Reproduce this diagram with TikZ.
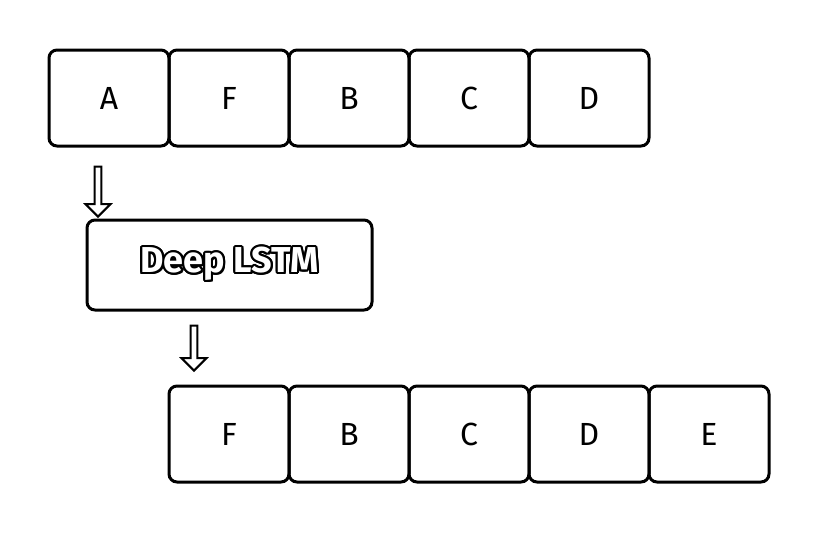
\documentclass[tikz,border=0pt]{standalone}
\usepackage{fontspec}
\setmainfont{Fira Sans}
\usepackage[copies]{contour}
\contourlength{1.1pt}
\usepackage{tikz}
\usetikzlibrary{shapes.arrows, positioning}

\begin{document}
\begin{tikzpicture}[
    node distance=0pt,
    cell/.style={rectangle, draw=black, line width=1.5pt, rounded corners=4pt, outer sep=0pt, minimum width=60pt, minimum height=48pt, font=\fontsize{16}{18}\selectfont},
    lstm/.style={cell, minimum width=142.5pt, minimum height=45pt, font=\fontsize{18}{20}\selectfont\bfseries},
    hollow/.style={single arrow, draw=black, line width=1pt, fill=white, inner xsep=0pt, inner ysep=1.2pt, minimum width=3pt, single arrow head extend=4.5pt, single arrow head indent=0pt, rotate=-90, anchor=tip}
]
\useasboundingbox (0,0) rectangle (410pt,-266pt);
% input sequence
\node[cell] (A) at (54.5pt,-49pt) {A};
\node[cell, right=of A] (F1) {F};
\node[cell, right=of F1] (B1) {B};
\node[cell, right=of B1] (C1) {C};
\node[cell, right=of C1] (D1) {D};
% model
\node[lstm, below=37pt of A.south west, anchor=north west, xshift=19pt] (lstm) {\contour{black}{\textcolor{white}{Deep LSTM}}};
% output sequence
\node[cell, below=120pt of F1] (F2) {F};
\node[cell, right=of F2] (B2) {B};
\node[cell, right=of B2] (C2) {C};
\node[cell, right=of C2] (D2) {D};
\node[cell, right=of D2] (E2) {E};
% arrows
\node[hollow, minimum height=25pt] (in) at ([xshift=5.5pt, yshift=1pt]lstm.north west) {};
\node[hollow, minimum height=22.5pt] (out) at ([xshift=12.5pt, yshift=7pt]F2.north west) {};
\end{tikzpicture}
\end{document}
